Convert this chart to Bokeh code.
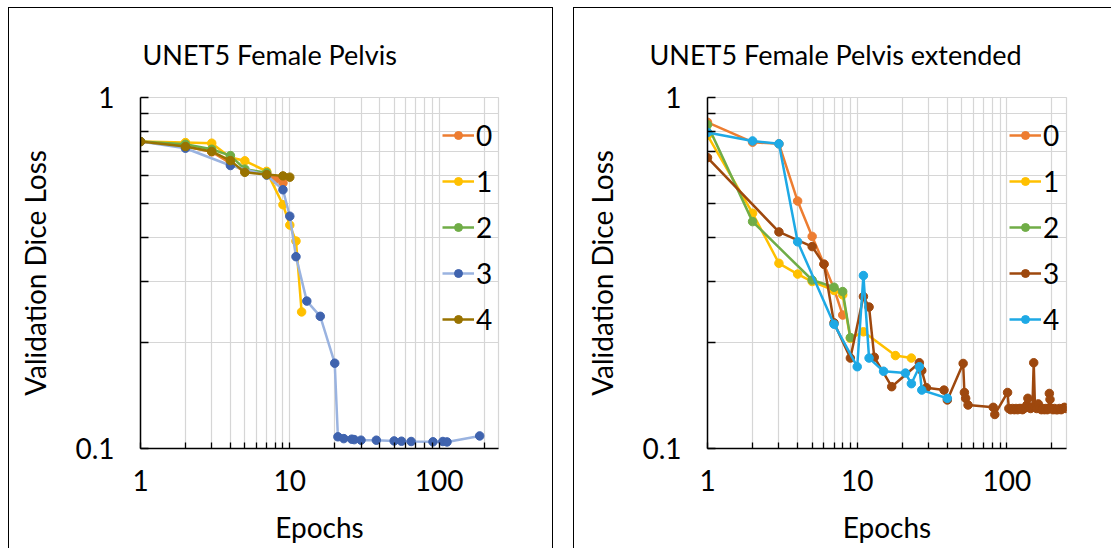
from bokeh.plotting import figure
from bokeh.models import (FixedTicker, CustomJSTickFormatter, Legend, LegendItem, Range1d)
from bokeh.layouts import row
from bokeh.embed import file_html
from bokeh.resources import INLINE

# ---------------- data: left chart "UNET5 Female Pelvis" ----------------
L_TITLE = "UNET5 Female Pelvis"
L_EP0 = [1, 2, 3, 4, 5, 7, 8, 9]
L_VAL0 = [0.749, 0.725, 0.700, 0.650, 0.615, 0.610, 0.585, 0.571]
L_EP1 = [1, 2, 3, 4, 5, 7, 9, 10, 11, 12]
L_VAL1 = [0.749, 0.744, 0.741, 0.675, 0.660, 0.616, 0.495, 0.433, 0.390, 0.245]
L_EP2 = [1, 2, 3, 4, 5, 7]
L_VAL2 = [0.749, 0.736, 0.712, 0.683, 0.625, 0.610]
L_EP3 = [1, 2, 4, 7, 9, 10, 11, 13, 16, 20, 21, 23, 26, 27, 30, 38, 50, 56, 65, 91, 106, 113, 187]
L_VAL3 = [0.749, 0.717, 0.640, 0.601, 0.546, 0.459, 0.352, 0.263, 0.238, 0.175, 0.108,
          0.1067, 0.1063, 0.1060, 0.1056, 0.1056, 0.1051, 0.1049, 0.1047, 0.1045, 0.1047,
          0.1044, 0.1086]
L_EP4 = [1, 2, 3, 4, 5, 7, 9, 10]
L_VAL4 = [0.749, 0.725, 0.702, 0.661, 0.612, 0.603, 0.598, 0.593]

# ---------------- data: right chart "UNET5 Female Pelvis extended" ----------------
R_TITLE = "UNET5 Female Pelvis extended"
R_EP0 = [1, 2, 3, 4, 5, 6, 7, 8]
R_VAL0 = [0.850, 0.746, 0.738, 0.507, 0.402, 0.335, 0.285, 0.240]
R_EP1 = [1, 2, 3, 4, 5, 7, 8, 9, 11, 18, 23]
R_VAL1 = [0.780, 0.468, 0.337, 0.314, 0.299, 0.282, 0.274, 0.206, 0.215, 0.184, 0.181]
R_EP2 = [1, 2, 5, 7, 8, 9]
R_VAL2 = [0.836, 0.443, 0.302, 0.288, 0.280, 0.207]
R_EP3 = [1, 3, 5, 6, 7, 9, 11, 12, 13, 17, 26, 27, 29, 38, 40, 51, 52, 53, 55, 81, 83, 101,
         103, 106, 109, 112, 115, 118, 121, 124, 127, 130, 133, 136, 138, 141, 144, 148,
         151, 154, 158, 162, 166, 170, 174, 178, 182, 186, 190, 192, 194, 198, 203, 208,
         213, 218, 224, 230, 236, 242, 248]
R_VAL3 = [0.674, 0.414, 0.376, 0.335, 0.228, 0.181, 0.271, 0.253, 0.182, 0.150, 0.1755,
          0.1667, 0.149, 0.1467, 0.1375, 0.1747, 0.1444, 0.139, 0.133, 0.131, 0.125, 0.1444,
          0.130, 0.129, 0.130, 0.129, 0.130, 0.129, 0.130, 0.130, 0.129, 0.130, 0.131,
          0.133, 0.139, 0.131, 0.130, 0.131, 0.1755, 0.131, 0.130, 0.134, 0.130, 0.129,
          0.130, 0.129, 0.130, 0.129, 0.130, 0.1435, 0.138, 0.130, 0.129, 0.130, 0.129,
          0.129, 0.130, 0.129, 0.130, 0.131, 0.130]
R_EP4 = [1, 2, 3, 4, 7, 10, 11, 12, 15, 21, 23, 26, 27, 40]
R_VAL4 = [0.795, 0.752, 0.738, 0.388, 0.226, 0.171, 0.311, 0.181, 0.166, 0.164, 0.153,
          0.171, 0.1467, 0.139]

SERIES_NAMES = ["0", "1", "2", "3", "4"]
L_LINE_COLORS = ["#ED7D31", "#FFC000", "#70AD47", "#9AB3E0", "#997300"]
L_MARK_COLORS = ["#ED7D31", "#FFC000", "#70AD47", "#3F63AE", "#997300"]
R_LINE_COLORS = ["#ED7D31", "#FFC000", "#70AD47", "#9E480E", "#1EA9E5"]
R_MARK_COLORS = ["#ED7D31", "#FFC000", "#70AD47", "#9E480E", "#1EA9E5"]

X_MAJOR = [1, 10, 100]
X_MINOR = [2, 3, 4, 5, 6, 7, 8, 9, 20, 30, 40, 50, 60, 70, 80, 90, 200]
Y_MAJOR = [0.1, 1]
Y_MINOR = [0.2, 0.3, 0.4, 0.5, 0.6, 0.7, 0.8, 0.9]

FONT = "Lato"
FS = "28px"
GRID = "#D6D6D6"


def make_panel(title, title_offset, xs, ys, line_colors, mark_colors,
               width, height, mb_left, mb_right, mb_top, mb_bottom, border_style):
    p = figure(width=width, height=height, x_axis_type="log", y_axis_type="log",
               x_range=Range1d(1, 250), y_range=Range1d(0.1, 1),
               output_backend="svg", toolbar_location=None,
               min_border_left=mb_left, min_border_right=mb_right,
               min_border_top=mb_top, min_border_bottom=mb_bottom,
               background_fill_color="white", border_fill_color="white",
               outline_line_color=GRID, outline_line_width=1.2,
               styles=border_style)
    p.title.text = title
    p.title.text_font = FONT
    p.title.text_font_size = "27px"
    p.title.text_font_style = "normal"
    p.title.text_color = "black"
    p.title.align = "left"
    p.title.vertical_align = "top"
    p.title.offset = title_offset
    p.title.standoff = 49

    for ax in (p.xaxis[0], p.yaxis[0]):
        ax.major_label_text_font = FONT
        ax.major_label_text_font_size = FS
        ax.major_label_text_color = "black"
        ax.axis_label_text_font = FONT
        ax.axis_label_text_font_size = FS
        ax.axis_label_text_font_style = "normal"
        ax.axis_label_text_color = "black"
        ax.axis_line_color = "black"
        ax.axis_line_width = 1.5
        ax.major_tick_line_color = "black"
        ax.minor_tick_line_color = "black"
        ax.major_tick_line_width = 1.3
        ax.minor_tick_line_width = 1.3
        ax.major_tick_out = 0
        ax.minor_tick_out = 0
        ax.formatter = CustomJSTickFormatter(code="return String(tick)")

    p.xaxis[0].ticker = FixedTicker(ticks=X_MAJOR, minor_ticks=X_MINOR)
    p.yaxis[0].ticker = FixedTicker(ticks=Y_MAJOR, minor_ticks=Y_MINOR)
    p.xaxis[0].major_tick_in = 6
    p.xaxis[0].minor_tick_in = 6
    p.yaxis[0].major_tick_in = 8
    p.yaxis[0].minor_tick_in = 8
    p.xaxis[0].axis_label = "Epochs"
    p.yaxis[0].axis_label = "Validation Dice Loss"
    p.xaxis[0].major_label_standoff = 21
    p.yaxis[0].major_label_standoff = 26
    p.xaxis[0].axis_label_standoff = 16
    p.yaxis[0].axis_label_standoff = 20

    for g in (p.xgrid[0], p.ygrid[0]):
        g.grid_line_color = GRID
        g.grid_line_width = 1.2
        g.minor_grid_line_color = GRID
        g.minor_grid_line_width = 1.2

    items = []
    for name, x, y, lc, mc in zip(SERIES_NAMES, xs, ys, line_colors, mark_colors):
        lr = p.line(x, y, line_color=lc, line_width=2.5)
        sr = p.scatter(x, y, marker="circle", size=8.5, fill_color=mc, line_color=mc)
        items.append(LegendItem(label=name, renderers=[lr, sr]))

    leg = Legend(items=items, location=(302, 111), orientation="vertical",
                 padding=0, margin=0, spacing=10, label_height=36,
                 glyph_height=20, glyph_width=32, label_standoff=2,
                 background_fill_alpha=0, border_line_color=None,
                 label_text_font=FONT, label_text_font_size=FS,
                 label_text_color="black")
    p.add_layout(leg)
    return p


p1 = make_panel(L_TITLE, 2,
                [L_EP0, L_EP1, L_EP2, L_EP3, L_EP4],
                [L_VAL0, L_VAL1, L_VAL2, L_VAL3, L_VAL4],
                L_LINE_COLORS, L_MARK_COLORS,
                545, 541, 131, 56, 87, 101,
                {"border-top": "1.5px solid black", "border-left": "1.5px solid black",
                 "border-right": "1.5px solid black"})
p1.margin = (7, 0, 0, 8)

p2 = make_panel(R_TITLE, -58,
                [R_EP0, R_EP1, R_EP2, R_EP3, R_EP4],
                [R_VAL0, R_VAL1, R_VAL2, R_VAL3, R_VAL4],
                R_LINE_COLORS, R_MARK_COLORS,
                538, 541, 133, 46, 89, 101,
                {"border-top": "1.5px solid black", "border-left": "1.5px solid black"})
p2.margin = (7, 0, 0, 20)

layout = row(p1, p2)
open("out.html", "w").write(file_html(layout, INLINE))
